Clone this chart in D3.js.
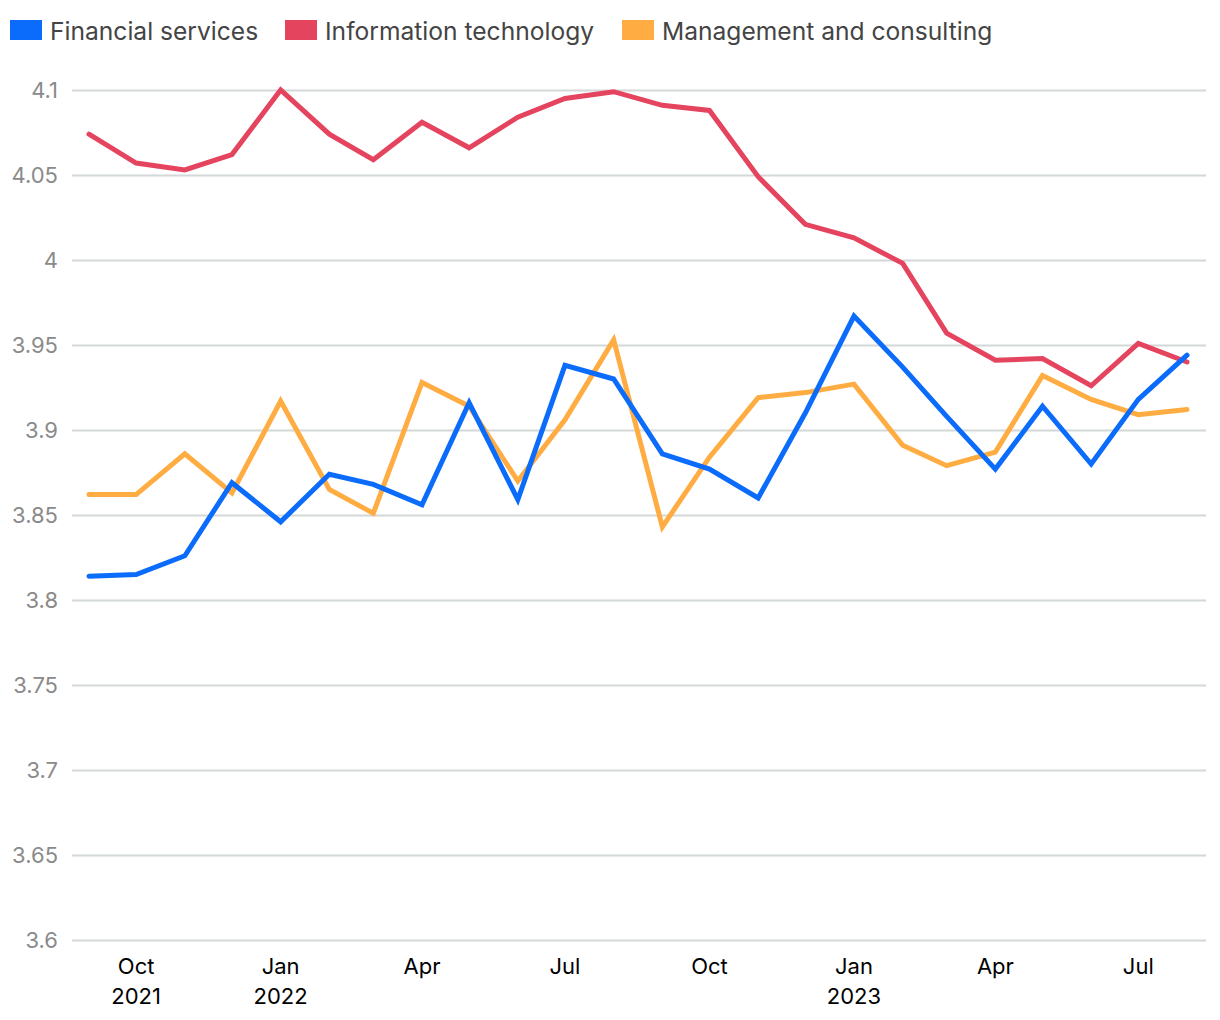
<!DOCTYPE html>
<html>
<head>
<meta charset="utf-8">
<script src="https://cdn.jsdelivr.net/npm/d3@7"></script>
<style>
  html, body { margin: 0; padding: 0; background: #fff; }
  svg { display: block; font-family: Inter, "Noto Sans", sans-serif; }
</style>
</head>
<body>
<svg id="chart" width="1220" height="1020"></svg>
<script>
const months = ["2021-09","2021-10","2021-11","2021-12","2022-01","2022-02","2022-03","2022-04","2022-05","2022-06","2022-07","2022-08","2022-09","2022-10","2022-11","2022-12","2023-01","2023-02","2023-03","2023-04","2023-05","2023-06","2023-07","2023-08"];
const financialServices = [3.814,3.815,3.826,3.869,3.846,3.874,3.868,3.856,3.916,3.859,3.938,3.930,3.886,3.877,3.860,3.910,3.967,3.937,3.908,3.877,3.914,3.880,3.918,3.944];
const informationTechnology = [4.074,4.057,4.053,4.062,4.100,4.074,4.059,4.081,4.066,4.084,4.095,4.099,4.091,4.088,4.049,4.021,4.013,3.998,3.957,3.941,3.942,3.926,3.951,3.940];
const managementConsulting = [3.862,3.862,3.886,3.863,3.917,3.865,3.851,3.928,3.914,3.870,3.906,3.953,3.843,3.884,3.919,3.922,3.927,3.891,3.879,3.887,3.932,3.918,3.909,3.912];
const yTicks = [3.6,3.65,3.7,3.75,3.8,3.85,3.9,3.95,4.0,4.05,4.1];
const xTickLabels = [
  {date:"2021-10", lines:["Oct","2021"]},
  {date:"2022-01", lines:["Jan","2022"]},
  {date:"2022-04", lines:["Apr"]},
  {date:"2022-07", lines:["Jul"]},
  {date:"2022-10", lines:["Oct"]},
  {date:"2023-01", lines:["Jan","2023"]},
  {date:"2023-04", lines:["Apr"]},
  {date:"2023-07", lines:["Jul"]}
];
const seriesNames = ["Financial services","Information technology","Management and consulting"];
const seriesColors = ["#0b6cfb","#e5445f","#ffad42"];

const parse = d3.timeParse("%Y-%m");
const dates = months.map(parse);
const svg = d3.select("#chart");

const x = d3.scaleTime().domain([dates[0], dates[dates.length-1]]).range([89, 1187]);
const y = d3.scaleLinear().domain([3.6, 4.1]).range([940, 90]);
const gridLeft = 72, gridRight = 1206;

// gridlines + y labels
const yAxis = d3.axisLeft(y).tickValues(yTicks).tickSize(-(gridRight-gridLeft)).tickPadding(14)
  .tickFormat(d => d3.format("")(+d.toFixed(2)));
const gy = svg.append("g").attr("transform", `translate(${gridLeft},0)`).call(yAxis);
gy.select(".domain").remove();
gy.selectAll(".tick line").attr("stroke", "#d3d8d8").attr("stroke-width", 2);
gy.selectAll(".tick text").attr("fill", "#8a8a8a").attr("font-size", 22)
  .attr("font-family", "Inter, sans-serif").attr("dy", "0.35em");

// x axis labels
const gx = svg.append("g");
xTickLabels.forEach(t => {
  const xp = x(parse(t.date));
  const txt = gx.append("text").attr("x", xp).attr("y", 974).attr("text-anchor", "middle")
    .attr("font-size", 22).attr("fill", "#000");
  t.lines.forEach((l, i) => {
    txt.append("tspan").attr("x", xp).attr("dy", i === 0 ? 0 : 30).text(l);
  });
});

// lines
const allSeries = [financialServices, informationTechnology, managementConsulting];
const line = d3.line().x((d, i) => x(dates[i])).y(d => y(d));
const drawOrder = [1, 2, 0];
drawOrder.forEach(k => {
  svg.append("path").datum(allSeries[k]).attr("d", line)
    .attr("fill", "none").attr("stroke", seriesColors[k]).attr("stroke-width", 5)
    .attr("stroke-linejoin", "miter").attr("stroke-linecap", "round");
});

// legend
const legendX = [10, 285, 622];
seriesNames.forEach((n, i) => {
  svg.append("rect").attr("x", legendX[i]).attr("y", 20).attr("width", 32).attr("height", 20).attr("fill", seriesColors[i]);
  svg.append("text").attr("x", legendX[i] + 40).attr("y", 40).attr("font-size", 24.6).attr("fill", "#444").text(n);
});
</script>
</body>
</html>
